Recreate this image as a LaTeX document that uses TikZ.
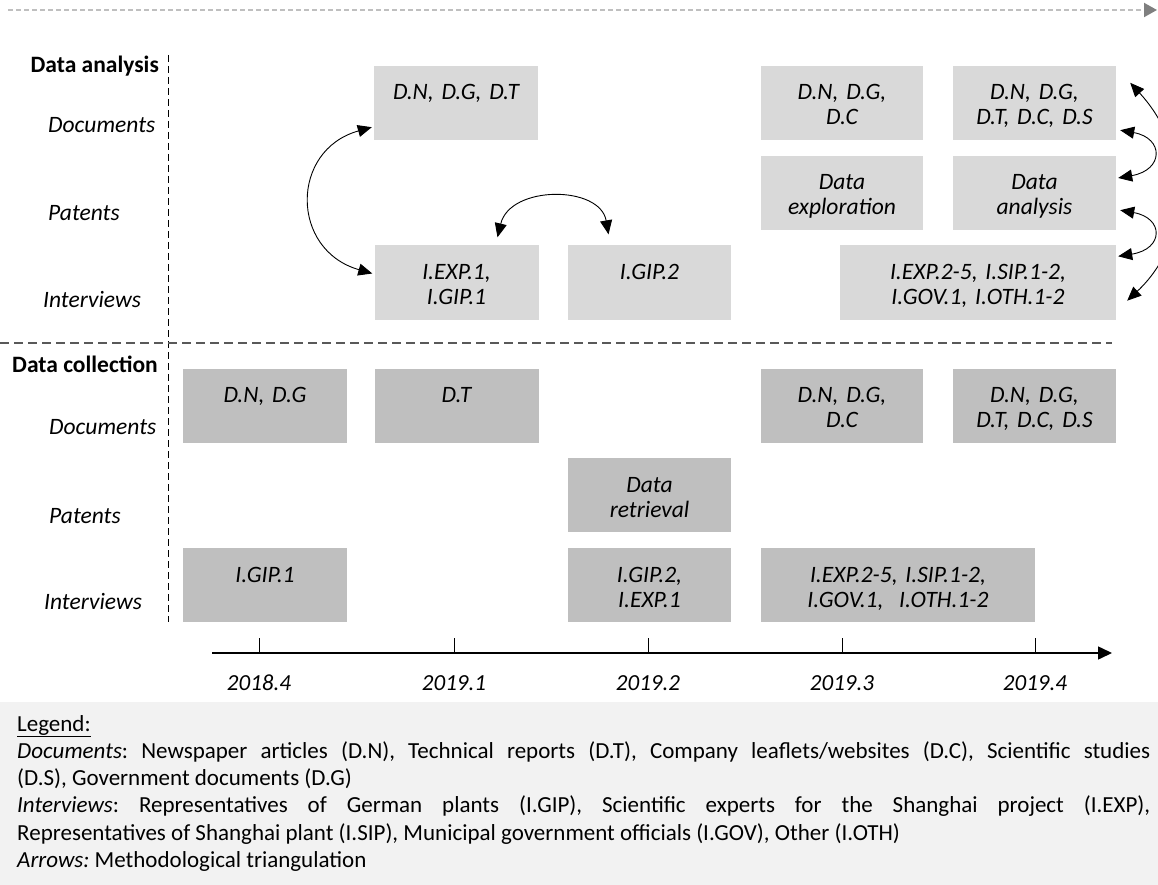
\documentclass[tikz,border=0pt]{standalone}
\usepackage{fontspec}
\setmainfont{Carlito}
\usetikzlibrary{arrows.meta}
\definecolor{ga}{HTML}{D9D9D9}
\definecolor{gc}{HTML}{BFBFBF}
\definecolor{lg}{HTML}{F2F2F2}
\definecolor{tg}{HTML}{BFBFBF}
\definecolor{th}{HTML}{7F7F7F}
\definecolor{sep}{HTML}{595959}
\frenchspacing
\begin{document}
\begin{tikzpicture}[x=1pt,y=-1pt,
  txt/.style={font=\fontsize{23.5}{25}\selectfont, inner sep=0pt},
  hd/.style={txt, font=\fontsize{23.5}{25}\selectfont\bfseries, anchor=base east},
  rowlab/.style={txt, font=\fontsize{23.5}{25}\selectfont\itshape, anchor=base west},
  yr/.style={txt, font=\fontsize{23}{25}\selectfont\itshape, anchor=base},
  boxbase/.style={txt, font=\fontsize{23.5}{25}\selectfont\itshape, align=center, text height=34pt, text depth=40pt},
  anabox/.style={boxbase, fill=ga, text width=#1},
  colbox/.style={boxbase, fill=gc, text width=#1},
  arr/.style={{Triangle[length=14pt,width=12pt]}-{Triangle[length=14pt,width=12pt]}, line width=0.9pt, black},
]
\useasboundingbox (0,0) rectangle (1158,885);

% top timeline arrow
\coordinate (t0) at (8,10);
\coordinate (t1) at (1157,10);
\draw[tg, line width=2pt, dash pattern=on 5pt off 3pt, -{Triangle[length=13pt,width=14pt,color=th]}] (t0) -- (t1);

% separators
\draw[black, line width=1pt, dash pattern=on 7pt off 4pt] (168,55) -- (168,622);
\draw[sep, line width=1.3pt, dash pattern=on 9pt off 5pt] (0,343) -- (1112,343);

% left labels
\node[hd] (hA) at (159,72.5) {Data analysis};
\node[rowlab] (lA1) at (48,132.5) {Documents};
\node[rowlab] (lA2) at (48,220.5) {Patents};
\node[rowlab] (lA3) at (43,307.5) {Interviews};
\node[hd] (hC) at (158,372.5) {Data collection};
\node[rowlab] (lC1) at (49,434.5) {Documents};
\node[rowlab] (lC2) at (49,523.5) {Patents};
\node[rowlab] (lC3) at (44,609.5) {Interviews};

% data analysis boxes
\node[anabox=164pt] (A1) at (456,103) {D.N, D.G, D.T};
\node[anabox=164pt] (A2) at (456.5,282.5) {I.EXP.1,\\ I.GIP.1};
\node[anabox=163pt] (A3) at (649.5,282.5) {I.GIP.2};
\node[anabox=162pt] (A4) at (842,103) {D.N, D.G,\\ D.C};
\node[anabox=163pt] (A5) at (1034.5,103) {D.N, D.G,\\ D.T, D.C, D.S};
\node[anabox=162pt] (A6) at (842,193) {Data\\ exploration};
\node[anabox=163pt] (A7) at (1034.5,193) {Data\\ analysis};
\node[anabox=276pt] (A8) at (978,282.5) {I.EXP.2-5, I.SIP.1-2,\\ I.GOV.1, I.OTH.1-2};

% data collection boxes
\node[colbox=164pt] (C1) at (265,405.5) {D.N, D.G};
\node[colbox=164pt] (C2) at (456.5,405.5) {D.T};
\node[colbox=163pt] (C3) at (649.5,495) {Data\\ retrieval};
\node[colbox=163pt] (C4) at (649.5,585) {I.GIP.2,\\ I.EXP.1};
\node[colbox=164pt] (C5) at (265,585) {I.GIP.1};
\node[colbox=162pt] (C6) at (842,405.5) {D.N, D.G,\\ D.C};
\node[colbox=163pt] (C7) at (1034.5,405.5) {D.N, D.G,\\ D.T, D.C, D.S};
\node[colbox=274pt] (C8) at (898,585) {I.EXP.2-5, I.SIP.1-2,\\ I.GOV.1,\ \ I.OTH.1-2};

% triangulation arrows
\draw[arr] ([shift={(-2,-13)}]A1.south west) .. controls (290,150) and (290,250) .. ([shift={(-2,-9)}]A2.west);
\draw[arr] ([shift={(41,-8)}]A2.north) .. controls (510,185) and (600,185) .. ([shift={(-41,-11)}]A3.north);
\draw[arr] ([shift={(4,-10)}]A5.south east) .. controls (1164,138) and (1164,170) .. ([shift={(2,-15)}]A7.east);
\draw[arr] ([shift={(4,-20)}]A7.south east) .. controls (1164,218) and (1164,249) .. ([shift={(2,11)}]A8.north east);
\draw[arr] ([shift={(14,17)}]A5.north east) .. controls (1192,150) and (1192,240) .. ([shift={(11,-19)}]A8.south east);

% time axis
\coordinate (ax0) at (212,653);
\coordinate (ax1) at (1112,653);
\draw[line width=1.5pt, -{Triangle[length=14pt,width=13pt]}] (ax0) -- (ax1);
\foreach \x/\n/\lab in {259/y1/2018.4, 454/y2/2019.1, 648/y3/2019.2, 842/y4/2019.3, 1035/y5/2019.4}{
  \draw[line width=1pt] (\x,638) -- (\x,653);
  \node[yr] (\n) at (\x,690.5) {\lab};
}

% legend
\fill[lg] (0,702) rectangle (1158,885);
\node[inner sep=0pt, anchor=north west, text width=1133pt, align=justify,
      font=\fontsize{23}{27.2}\selectfont] (legend) at (17,712)
{\strut\underline{Legend:}\par
\textit{Documents}: Newspaper articles (D.N), Technical reports (D.T), Company leaflets/websites (D.C), Scientific studies\linebreak (D.S), Government documents (D.G)\par
\textit{Interviews}: Representatives of German plants (I.GIP), Scientific experts for the Shanghai project (I.EXP),\linebreak Representatives of Shanghai plant (I.SIP), Municipal government officials (I.GOV), Other (I.OTH)\par
\textit{Arrows:} Methodological triangulation\par};
\end{tikzpicture}
\end{document}
